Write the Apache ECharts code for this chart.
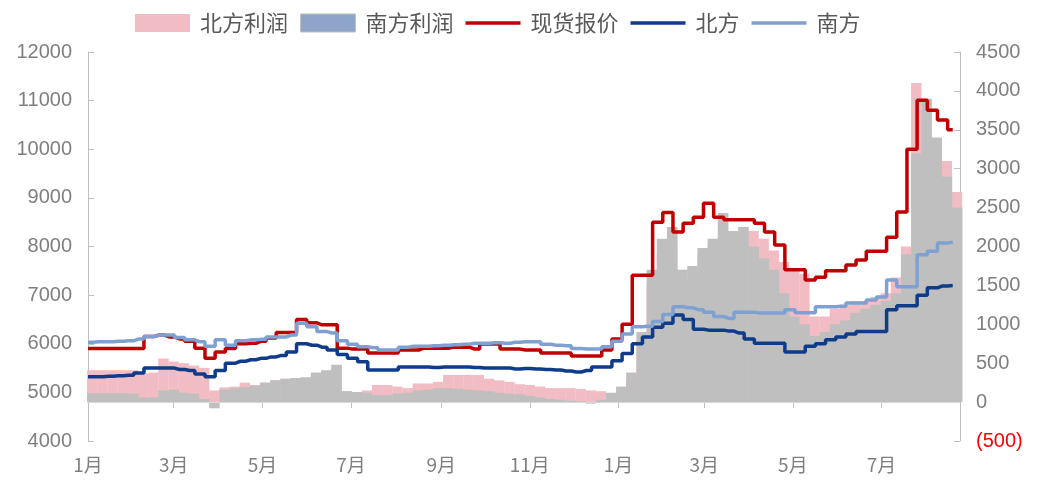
<!DOCTYPE html>
<html><head><meta charset="utf-8">
<script src="https://cdn.jsdelivr.net/npm/echarts@6/dist/echarts.min.js"></script>
<style>html,body{margin:0;padding:0;background:#fff}#c{width:1047px;height:485px}</style>
</head><body><div id="c"></div>
<script>
// sampling step (days) of the weekly series below
const stepDays = 7;
const axisMaxDay = 600;
const monthStartDays = [0, 59, 120, 181, 243, 304, 365, 424, 485, 546];
const monthLabels = ['1月', '3月', '5月', '7月', '9月', '11月', '1月', '3月', '5月', '7月'];

// 现货报价 (left axis)
const spot = [5900,5900,5900,5900,5900,5900,6150,6180,6140,6100,6050,5910,5700,5830,5900,6000,6010,6050,6120,6230,
  6230,6500,6430,6390,6390,5910,5890,5890,5810,5810,5810,5870,5870,5910,5910,5910,5930,5930,5890,5995,
  5995,5890,5890,5870,5870,5810,5810,5810,5750,5750,5750,5870,6100,6400,7410,7410,8500,8700,8300,8480,
  8600,8890,8600,8550,8550,8550,8480,8300,8030,7520,7520,7310,7370,7500,7500,7620,7720,7900,7900,8190,
  8710,10000,11010,10800,10600,10400];
// 南方 (left axis)
const south = [6030,6040,6040,6050,6060,6100,6150,6180,6180,6130,6080,6040,5950,6080,5970,6060,6080,6090,6140,6140,
  6180,6420,6350,6250,6220,6060,5990,5940,5920,5870,5870,5930,5950,5950,5960,5970,5980,5990,6010,6010,
  6020,6010,6030,6040,6040,5990,5970,5960,5900,5890,5890,5940,6050,6200,6350,6360,6460,6600,6760,6740,
  6700,6650,6560,6520,6650,6650,6630,6630,6630,6700,6640,6640,6760,6760,6770,6840,6840,6900,6960,7310,
  7170,7170,7830,7900,8070,8090];
// 北方 (left axis)
const north = [5320,5320,5330,5340,5350,5400,5500,5500,5500,5470,5450,5380,5320,5450,5600,5640,5670,5700,5730,5760,
  5830,6000,5970,5930,5870,5780,5700,5630,5460,5460,5460,5520,5520,5520,5510,5520,5520,5520,5510,5500,
  5500,5500,5480,5490,5480,5470,5460,5440,5420,5450,5520,5520,5650,5800,6000,6140,6340,6420,6590,6500,
  6300,6280,6280,6260,6220,6100,6010,6010,6010,5830,5830,5950,6000,6080,6140,6200,6250,6250,6250,6700,
  6780,6780,7000,7150,7190,7200];
// 北方利润 (right axis)
const northProfit = [410,410,410,410,410,370,380,560,520,500,470,440,150,190,200,250,220,250,280,300,
  310,300,350,380,430,140,130,150,220,220,200,180,240,240,260,350,350,350,350,300,
  280,260,230,220,200,180,180,180,170,150,140,100,150,300,800,1500,1900,2000,1500,1600,
  1900,2000,2200,2100,2200,2200,2100,1950,1800,1700,1650,1100,1100,1200,1250,1300,1300,1350,1400,1600,
  2000,4100,3700,3300,3100,2700];
// 南方利润 (right axis)
const southProfit = [115,115,115,115,110,60,60,150,160,120,110,40,-80,160,180,190,210,250,280,300,
  310,320,380,410,480,140,130,120,90,90,110,120,150,160,180,180,170,160,150,140,
  120,110,100,80,60,40,30,20,10,-20,30,120,200,380,900,1700,2100,2250,1700,1750,
  1980,2100,2430,2200,2250,2000,1850,1700,1400,1100,1000,850,900,1000,1050,1150,1200,1250,1300,1400,
  1900,3200,3900,3400,2900,2500];

const pair = arr => arr.map((v, i) => [i * stepDays, v]);
// bars sit on the week they cover
const pairBar = arr => arr.map((v, i) => [i * stepDays + 3, v]);
const axisGray = '#BFBFBF';
const labelGray = '#7F7F7F';
const lineIcon = 'path://M0,0H60V4H0Z';

const chart = echarts.init(document.getElementById('c'), null, {renderer: 'canvas'});
chart.setOption({
  animation: false,
  backgroundColor: '#fff',
  grid: {left: 88, right: 87, top: 52, bottom: 44},
  legend: {
    left: 130, top: 7, itemGap: 12, itemWidth: 55, itemHeight: 18, symbolKeepAspect: true,
    textStyle: {color: '#595959', fontSize: 22, fontFamily: 'Noto Sans CJK SC', padding: [0, 0, 0, 5]},
    data: [
      {name: '北方利润', icon: 'rect'},
      {name: '南方利润', icon: 'rect', itemStyle: {color: '#8EA4C8', borderColor: '#BFBFBF', borderWidth: 1}},
      {name: '现货报价', icon: lineIcon}, {name: '北方', icon: lineIcon}, {name: '南方', icon: lineIcon}
    ]
  },
  xAxis: {
    type: 'value', min: 0, max: axisMaxDay,
    splitLine: {show: false},
    axisLine: {show: true, lineStyle: {color: axisGray}},
    axisTick: {show: true, customValues: monthStartDays, length: 6, lineStyle: {color: axisGray}},
    axisLabel: {customValues: monthStartDays, color: labelGray, fontSize: 19, margin: 14,
      fontFamily: 'Noto Sans CJK SC',
      formatter: v => monthLabels[monthStartDays.indexOf(v)] || ''}
  },
  yAxis: [{
    type: 'value', min: 4000, max: 12000, interval: 1000, position: 'left',
    splitLine: {show: false},
    axisLine: {show: true, lineStyle: {color: axisGray}},
    axisTick: {show: true, inside: true, length: 6, lineStyle: {color: axisGray}},
    axisLabel: {color: labelGray, fontSize: 20, margin: 16, fontFamily: 'Liberation Sans',
      formatter: v => String(v)}
  }, {
    type: 'value', min: -500, max: 4500, interval: 500, position: 'right',
    splitLine: {show: false},
    axisLine: {show: true, lineStyle: {color: axisGray}},
    axisTick: {show: true, inside: true, length: 6, lineStyle: {color: axisGray}},
    axisLabel: {color: labelGray, fontSize: 20, margin: 16, fontFamily: 'Liberation Sans',
      formatter: v => v < 0 ? '{neg|(' + Math.abs(v) + ')}' : String(v),
      rich: {neg: {color: '#FF0000', fontSize: 20, fontFamily: 'Liberation Sans'}}}
  }],
  series: [
    {name: '北方利润', type: 'bar', yAxisIndex: 1, data: pairBar(northProfit), barWidth: 10.4, barGap: '-100%',
      itemStyle: {color: '#F2BCC5'}, z: 1},
    {name: '南方利润', type: 'bar', yAxisIndex: 1, data: pairBar(southProfit), barWidth: 10.6, barGap: '-100%',
      itemStyle: {color: '#BFBFBF'}, z: 2,
      markLine: {silent: true, symbol: 'none', label: {show: false},
        lineStyle: {color: '#D9D9D9', type: 'solid', width: 1}, data: [{yAxis: 0}]}},
    {name: '现货报价', type: 'line', yAxisIndex: 0, data: pair(spot), symbol: 'none', step: 'middle',
      lineStyle: {color: '#C00000', width: 3.5}, itemStyle: {color: '#C00000'}, z: 5},
    {name: '北方', type: 'line', yAxisIndex: 0, data: pair(north), symbol: 'none', step: 'middle',
      lineStyle: {color: '#0E3C8A', width: 3.5}, itemStyle: {color: '#0E3C8A'}, z: 6},
    {name: '南方', type: 'line', yAxisIndex: 0, data: pair(south), symbol: 'none', step: 'middle',
      lineStyle: {color: '#7FA1D2', width: 3.5}, itemStyle: {color: '#7FA1D2'}, z: 7}
  ]
});
</script></body></html>
